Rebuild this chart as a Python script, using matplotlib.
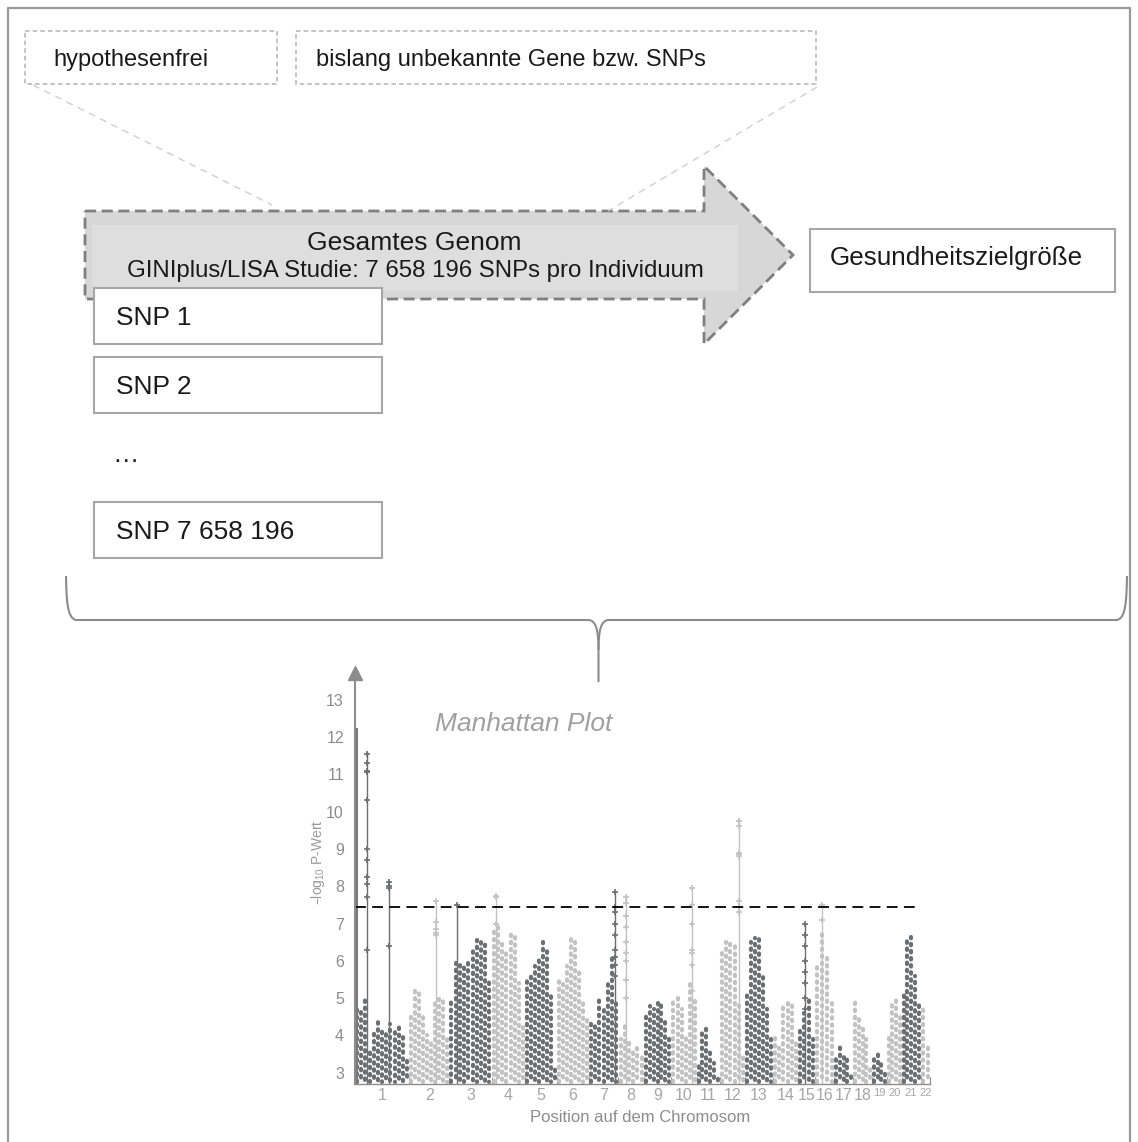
import numpy as np
import matplotlib
matplotlib.use('Agg')
import matplotlib.pyplot as plt
from matplotlib.patches import Polygon, Rectangle, PathPatch
from matplotlib.path import Path

plt.rcParams['font.family'] = ['Liberation Sans', 'DejaVu Sans']

# --- Daten Manhattan-Plot ---
chrom_labels = ['1', '2', '3', '4', '5', '6', '7', '8', '9', '10', '11',
                '12', '13', '14', '15', '16', '17', '18', '19', '20', '21', '22']
chrom_width = [128, 95, 100, 80, 75, 75, 70, 60, 65, 60, 55,
               60, 65, 60, 40, 45, 45, 45, 35, 35, 45, 22]
cloud_tops = [
    [4.7, 4.7, 5.0, 3.7, 4.1, 4.5, 4.15, 4.1, 4.3, 4.2, 4.35, 4.0, 3.35],
    [4.5, 5.3, 5.25, 4.6, 4.0, 3.8, 4.9, 5.1, 5.0, 4.0],
    [4.95, 5.95, 6.0, 5.85, 6.05, 6.3, 6.55, 6.65, 6.5, 5.5],
    [6.9, 7.0, 6.55, 6.2, 6.8, 6.75, 5.4, 4.25],
    [5.5, 5.6, 5.85, 6.1, 6.5, 6.3, 5.05, 3.1],
    [5.5, 5.4, 5.85, 6.65, 6.5, 5.7, 4.95, 4.45],
    [4.35, 4.25, 4.95, 4.8, 5.4, 6.2, 5.0],
    [3.9, 4.25, 3.9, 3.6, 3.7, 3.45],
    [4.6, 4.8, 4.7, 4.9, 4.95, 4.5, 4.05],
    [4.95, 5.05, 4.7, 4.05, 5.4, 5.05],
    [3.25, 4.15, 4.25, 3.55, 3.25, 2.9],
    [6.2, 6.5, 6.55, 6.4, 4.95, 3.45],
    [5.15, 6.5, 6.6, 6.65, 5.6, 4.7, 3.9],
    [4.05, 3.8, 4.8, 4.95, 4.95, 3.9],
    [4.25, 4.6, 4.95, 3.9],
    [5.85, 6.85, 6.2, 4.95],
    [3.45, 3.8, 3.5, 3.45, 3.0],
    [4.95, 4.5, 4.25, 3.9, 3.2],
    [3.45, 3.6, 3.35, 3.1],
    [4.0, 4.95, 5.05, 4.5],
    [5.15, 6.65, 6.65, 5.6, 4.95],
    [4.8, 3.7],
]
spike_chrom = [1, 1, 1, 2, 3, 4, 7, 8, 10, 12, 15, 16]
spike_pos = [0.01, 0.22, 0.63, 0.68, 0.18, 0.12, 0.89, 0.30, 0.83, 0.75, 0.38, 0.38]
spike_top = [12.2, 11.6, 8.1, 7.6, 7.5, 7.75, 7.85, 7.7, 7.95, 9.8, 7.0, 7.5]
spike_marks = [
    [],
    [11.55, 11.3, 11.1, 11.05, 10.3, 9.0, 8.7, 8.25, 8.05, 7.7, 6.3],
    [8.1, 8.0, 7.95, 6.4],
    [7.6, 7.05, 6.85, 6.75, 6.7],
    [7.5],
    [7.75, 7.7, 7.0],
    [7.85, 7.45, 7.3, 7.0, 6.7, 6.3, 6.1, 5.9, 5.6],
    [7.7, 7.55, 7.2, 6.9, 6.5, 6.2, 6.0, 5.5, 5.0],
    [7.95, 7.5, 7.0, 6.3, 6.2, 5.9, 5.2],
    [9.75, 9.6, 8.9, 8.85, 8.8, 7.6, 7.45, 7.3],
    [7.0, 6.7, 6.4, 6.0, 5.7, 5.4, 5.0, 4.7],
    [7.5, 7.1],
]
y_ticks = [3, 4, 5, 6, 7, 8, 9, 10, 11, 12, 13]
threshold = 7.45

snp_labels = ['SNP 1', 'SNP 2', 'SNP 7 658 196']

W, H = 1138, 1142
fig = plt.figure(figsize=(W / 100, H / 100), dpi=100)
fig.patch.set_facecolor('white')

# Hintergrund-Achse in Pixelkoordinaten
ax0 = fig.add_axes([0, 0, 1, 1])
ax0.set_xlim(0, W)
ax0.set_ylim(H, 0)
ax0.axis('off')

grey_line = '#9a9a9a'
box_edge = '#a6a6a6'
txt = '#1a1a1a'

# Rahmen
ax0.plot([8, 8, 1130, 1130], [H, 8, 8, H], color=grey_line, lw=1.6)

# obere gestrichelte Kästen
ax0.add_patch(Rectangle((25, 31), 252, 53, fill=False, ec='#b4b4b4', lw=1.1, ls=(0, (3, 2))))
ax0.add_patch(Rectangle((296, 31), 520, 53, fill=False, ec='#b4b4b4', lw=1.1, ls=(0, (3, 2))))
ax0.text(53, 66, 'hypothesenfrei', fontsize=17, color=txt)
ax0.text(316, 66, 'bislang unbekannte Gene bzw. SNPs', fontsize=17, color=txt)

# Verbindungslinien
ax0.plot([33, 272], [85, 205], color='#cfcfcf', lw=1, ls=(0, (5, 4)))
ax0.plot([817, 608], [87, 211], color='#cfcfcf', lw=1, ls=(0, (5, 4)))

# grosser Pfeil
arrow = Polygon([(85, 211), (704, 211), (704, 166), (793, 255), (704, 344),
                 (704, 299), (85, 299)], closed=True, fc='#d7d7d7',
                ec='#7f7f7f', lw=2, ls=(0, (4, 2)), zorder=1)
ax0.add_patch(arrow)
ax0.add_patch(Rectangle((92, 225), 646, 66, fc='#dedede', ec='none', zorder=1.5))
ax0.text(414, 250, 'Gesamtes Genom', fontsize=19, color=txt, ha='center', zorder=4)
ax0.text(415, 277, 'GINIplus/LISA Studie: 7 658 196 SNPs pro Individuum',
         fontsize=17.3, color=txt, ha='center', zorder=4)

# Zielgroesse
ax0.add_patch(Rectangle((810, 229), 305, 63, fc='white', ec=box_edge, lw=1.5, zorder=3))
ax0.text(830, 265, 'Gesundheitszielgröße', fontsize=18.7, color=txt, zorder=4)

# SNP-Kästen
for lab, top in zip(snp_labels, [288, 357, 502]):
    ax0.add_patch(Rectangle((94, top), 288, 56, fc='white', ec=box_edge, lw=1.5, zorder=3))
    ax0.text(116, top + 37, lab, fontsize=19, color=txt, zorder=4)
ax0.text(112, 462, '…', fontsize=19, color=txt)

# geschweifte Klammer
verts = [(66, 576), (66.5, 600), (67, 618), (76, 620), (588, 620),
         (596, 620), (598.5, 630), (598.5, 650), (598.5, 682)]
codes = [Path.MOVETO, Path.CURVE4, Path.CURVE4, Path.CURVE4, Path.LINETO,
         Path.CURVE4, Path.CURVE4, Path.CURVE4, Path.LINETO]
ax0.add_patch(PathPatch(Path(verts, codes), fill=False, ec='#8c8c8c', lw=1.5))
verts = [(1127, 576), (1126.5, 600), (1126, 618), (1117, 620), (609, 620),
         (601, 620), (598.5, 630), (598.5, 650)]
codes = [Path.MOVETO, Path.CURVE4, Path.CURVE4, Path.CURVE4, Path.LINETO,
         Path.CURVE4, Path.CURVE4, Path.CURVE4]
ax0.add_patch(PathPatch(Path(verts, codes), fill=False, ec='#8c8c8c', lw=1.5))

# Achsentexte Manhattan
ax0.text(524, 731, 'Manhattan Plot', fontsize=19, style='italic', color='#a0a0a0', ha='center')
ax0.text(318, 862, '–log$_\\mathregular{10}$ P-Wert', fontsize=10, rotation=90,
         color='#999999', ha='center', va='center')
ax0.text(640, 1117, 'Position auf dem Chromosom', fontsize=12, color='#8c8c8c',
         ha='center', va='center')

# --- Manhattan-Plot ---
y_base = 2.7
ax = fig.add_axes([355 / W, (H - 1084) / H, 575 / W, 418 / H])
ax.set_facecolor('none')
ax.set_xlim(0, sum(chrom_width))
ax.set_ylim(y_base, 13.9)

dark, light = '#6d6e70', '#c2c2c2'
starts = np.concatenate([[0], np.cumsum(chrom_width)[:-1]])
ends = np.cumsum(chrom_width)

for i, (s, w, tops) in enumerate(zip(starts, chrom_width, cloud_tops)):
    col = dark if i % 2 == 0 else light
    n = len(tops)
    xs = s + (np.arange(n) + 0.5) * w / n
    for k, (x, t) in enumerate(zip(xs, tops)):
        off = (k * 0.6) % 1.7
        ax.plot([x, x], [y_base + 0.05, t], color=col, lw=3.0,
                ls=(off, (0.35, 1.35)), dash_capstyle='round')

for c, p, t, marks in zip(spike_chrom, spike_pos, spike_top, spike_marks):
    i = c - 1
    col = dark if i % 2 == 0 else light
    x = starts[i] + p * chrom_width[i]
    if not marks:
        ax.plot([x, x], [y_base, t], color='#7a7a7a', lw=2.2)
        continue
    ax.plot([x, x], [y_base, t], color=col, lw=1.0)
    ax.plot([x] * len(marks), marks, ls='none', marker='+', ms=5, mew=1.2, color=col)

ax.plot([0, 1336], [threshold, threshold], color='black', lw=1.3, ls=(0, (6, 3.5)))

for sp in ['top', 'right']:
    ax.spines[sp].set_visible(False)
ax.spines['left'].set_color('#8c8c8c')
ax.spines['left'].set_linewidth(1.5)
ax.spines['left'].set_bounds(y_base, 13.6)
ax.spines['bottom'].set_color('#8c8c8c')
ax.spines['bottom'].set_linewidth(1.0)
ax.plot([0], [13.72], marker='^', ms=10, color='#8c8c8c', clip_on=False)

ax.set_yticks(y_ticks)
ax.set_yticklabels([str(v) for v in y_ticks])
ax.tick_params(axis='y', length=0, pad=8, labelsize=11.5, labelcolor='#8c8c8c')

ax.set_xticks(np.concatenate([[0], ends]))
ax.set_xticklabels([])
ax.tick_params(axis='x', which='major', direction='in', length=5, color='#8c8c8c')
ax.set_xticks((starts + ends) / 2, chrom_labels, minor=True)
ax.tick_params(axis='x', which='minor', length=0, pad=3, labelsize=11.5, labelcolor='#a6a6a6')
for lab in ax.get_xticklabels(minor=True)[18:]:
    lab.set_fontsize(8)

fig.savefig('out.png', dpi=100)
